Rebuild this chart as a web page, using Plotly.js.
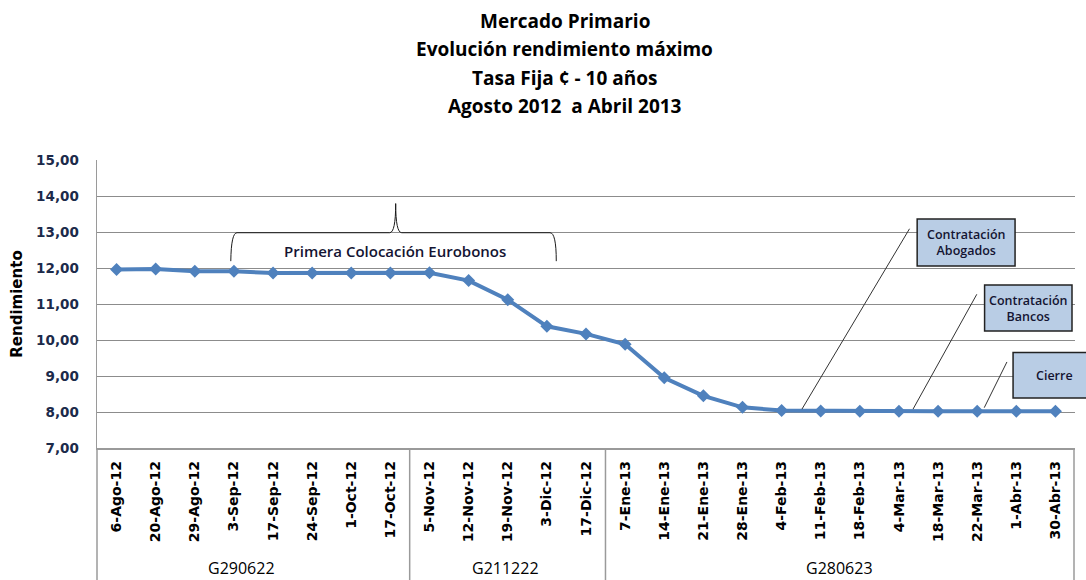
<!DOCTYPE html>
<html>
<head>
<meta charset="utf-8">
<script src="https://cdn.plot.ly/plotly-3.0.1.min.js"></script>
<style>html,body{margin:0;padding:0;background:#fff;}#chart{width:1086px;height:580px;}</style>
</head>
<body>
<div id="chart"></div>
<script>
var categories = ["6-Ago-12","20-Ago-12","29-Ago-12","3-Sep-12","17-Sep-12","24-Sep-12","1-Oct-12","17-Oct-12",
  "5-Nov-12","12-Nov-12","19-Nov-12","3-Dic-12","17-Dic-12",
  "7-Ene-13","14-Ene-13","21-Ene-13","28-Ene-13","4-Feb-13","11-Feb-13","18-Feb-13","4-Mar-13","18-Mar-13","22-Mar-13","1-Abr-13","30-Abr-13"];
var rendimiento = [11.96,11.97,11.91,11.91,11.86,11.86,11.86,11.86,
  11.87,11.65,11.12,10.38,10.17,
  9.88,8.95,8.45,8.13,8.04,8.03,8.02,8.02,8.02,8.02,8.02,8.02];
var groups = ["G290622","G211222","G280623"];
var groupSizes = [8,5,12];
var yTicks = [7,8,9,10,11,12,13,14,15];
var titleLines = ["Mercado Primario","Evolución rendimiento máximo","Tasa Fija ¢ - 10 años","Agosto 2012  a Abril 2013"];

var xIdx = categories.map(function(c,i){return i;});
var yTickText = yTicks.map(function(v){return v.toFixed(2).replace('.',',');});

var trace = {
  x: xIdx, y: rendimiento, type: 'scatter', mode: 'lines+markers',
  line: {color:'#4f81bd', width:4},
  marker: {symbol:'diamond', size:10, color:'#4f81bd'},
  hoverinfo:'skip', showlegend:false
};

var plotTop = 160, plotBot = 448, plotH = plotBot - plotTop;
function py(p){ return (plotBot - p)/plotH; }
function px(p){ return (p - 97)/979; }

var annotations = [];
var titleY = [21,49,78,106];
titleLines.forEach(function(t,i){
  annotations.push({text:t, xref:'paper', yref:'paper', x:px(565), y:py(titleY[i]), xanchor:'center', yanchor:'middle',
    showarrow:false, font:{family:'Open Sans', size:19, color:'#000', weight:'bold'}});
});
// group labels
var groupX = [242, 506, 840];
groups.forEach(function(g,i){
  annotations.push({text:g, xref:'paper', yref:'paper', x:px(groupX[i]), y:py(568), xanchor:'center', yanchor:'middle',
    showarrow:false, font:{family:'Open Sans', size:16, color:'#000'}});
});
annotations.push({text:'Primera Colocación Eurobonos', xref:'paper', yref:'paper', x:px(395), y:py(251), xanchor:'center', yanchor:'middle',
  showarrow:false, font:{family:'Open Sans', size:15, color:'#141432', weight:600}});
annotations.push({text:'Contratación<br>Abogados', xref:'paper', yref:'paper', x:px(967), y:py(242.5), xanchor:'center', yanchor:'middle',
  showarrow:false, font:{family:'Open Sans', size:12.5, color:'#141432', weight:600}});
annotations.push({text:'Contratación<br>Bancos', xref:'paper', yref:'paper', x:px(1029), y:py(308), xanchor:'center', yanchor:'middle',
  showarrow:false, font:{family:'Open Sans', size:12.5, color:'#141432', weight:600}});
annotations.push({text:'Cierre', xref:'paper', yref:'paper', x:px(1055), y:py(375), xanchor:'center', yanchor:'middle',
  showarrow:false, font:{family:'Open Sans', size:12.5, color:'#141432', weight:600}});

var shapes = [];
// category group separators in label area
var sepX = [97, 410, 606, 1075];
sepX.forEach(function(x){
  shapes.push({type:'line', xref:'paper', yref:'paper', x0:px(x), x1:px(x), y0:0, y1:-0.5, line:{color:'#9a9a9a', width:1.5}});
});
// brace
shapes.push({type:'path', xref:'x', yref:'y',
  path:'M 2.92,12.19 Q 2.93,12.98 3.08,12.98 L 6.98,12.98 Q 7.135,12.98 7.135,13.79 Q 7.135,12.98 7.29,12.98 L 11.08,12.98 Q 11.24,12.98 11.24,12.19',
  line:{color:'#1a1a1a', width:1}});
// callout lines
shapes.push({type:'line', xref:'x', yref:'y', x0:17.52, y0:8.08, x1:20.27, y1:13.09, line:{color:'#333', width:1}});
shapes.push({type:'line', xref:'x', yref:'y', x0:20.36, y0:8.08, x1:21.99, y1:11.27, line:{color:'#333', width:1}});
shapes.push({type:'line', xref:'x', yref:'y', x0:22.18, y0:8.12, x1:22.76, y1:9.39, line:{color:'#333', width:1}});
// callout boxes
shapes.push({type:'rect', xref:'paper', yref:'paper', x0:px(918), x1:px(1016), y0:py(266), y1:py(219), fillcolor:'#b9cde5', line:{color:'#222', width:1.5}});
shapes.push({type:'rect', xref:'paper', yref:'paper', x0:px(985.5), x1:px(1073), y0:py(331), y1:py(285), fillcolor:'#b9cde5', line:{color:'#222', width:1.5}});
shapes.push({type:'rect', xref:'paper', yref:'paper', x0:px(1014), x1:px(1098), y0:py(398), y1:py(352.5), fillcolor:'#b9cde5', line:{color:'#222', width:1.5}});

var layout = {
  width:1086, height:580,
  margin:{l:97, r:11, t:plotTop, b:580-plotBot},
  paper_bgcolor:'#fff', plot_bgcolor:'#fff',
  showlegend:false,
  xaxis:{type:'linear', range:[-0.5,24.5], tickvals:xIdx, ticktext:categories, tickangle:-90,
    showgrid:false, zeroline:false, showline:true, linecolor:'#9a9a9a', linewidth:1.5, ticks:'',
    ticklabelstandoff:6,
    tickfont:{family:'DejaVu Sans', size:14, color:'#000', weight:'bold'}},
  yaxis:{range:[7,15], tickvals:yTicks, ticktext:yTickText, showgrid:true, gridcolor:'#8c8c8c', gridwidth:1,
    zeroline:false, showline:true, linecolor:'#9a9a9a', linewidth:1.5, ticks:'', ticklabelstandoff:14,
    tickfont:{family:'DejaVu Sans', size:13.5, color:'#1c2a4a', weight:'bold'},
    title:{text:'Rendimiento', standoff:10, font:{family:'DejaVu Sans', size:15, color:'#000', weight:'bold'}}},
  annotations:annotations,
  shapes:shapes
};

Plotly.newPlot('chart', [trace], layout, {displayModeBar:false, staticPlot:true});
</script>
</body>
</html>
